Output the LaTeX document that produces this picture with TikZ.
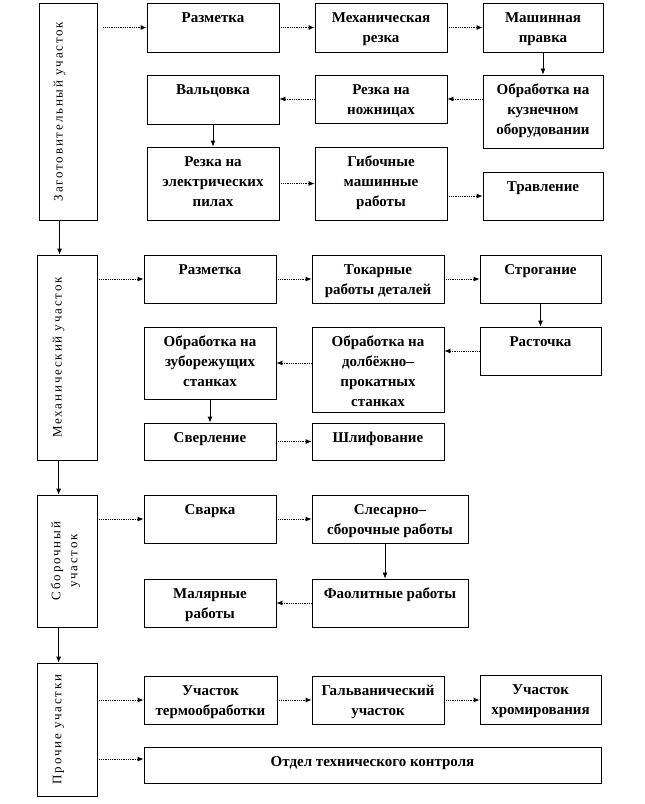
\documentclass[tikz,border=0pt]{standalone}
\usepackage{fontspec}
\setmainfont{Liberation Serif}
\newfontfamily\vfont[LetterSpace=14]{Liberation Serif}
\usetikzlibrary{arrows.meta,calc}
\tikzset{
 box/.style={draw, line width=0.8pt, inner sep=0pt},
 lbl/.style={font=\fontsize{15}{20}\selectfont\bfseries, align=center, inner sep=0pt, anchor=north},
 vlbl/.style={font=\fontsize{13}{17}\selectfont\vfont, rotate=90, align=center, inner sep=0pt},
 flow/.style={densely dotted, line width=0.8pt, -{Latex[length=6pt,width=5pt]}},
 down/.style={line width=0.8pt, -{Latex[length=6pt,width=5pt]}},
}
\newcommand\mybox[6]{%
 \node[box, minimum width={(#4-#2)*1pt}, minimum height={(#5-#3)*1pt}] (#1) at ({(#2+#4)/2},{(#3+#5)/2}) {};
 \node[lbl] (#1t) at ([yshift=-6pt]#1.north) {\rule{0pt}{14pt}#6};}
\begin{document}
\begin{tikzpicture}[x=1pt,y=-1pt]
\useasboundingbox (0,0) rectangle (645,804);
% ---- Заготовительный участок
\node[box, minimum width=58pt, minimum height=217pt] (zag) at (68,111.5) {};
\node[vlbl] (zagt) at ([xshift=21pt]zag.west) {Заготовительный участок};
\mybox{a1}{147}{3}{279}{52}{Разметка}
\mybox{a2}{315}{3}{447}{52}{Механическая\\резка}
\mybox{a3}{483}{3}{603}{52}{Машинная\\правка}
\mybox{a4}{483}{75}{603}{148}{Обработка на\\кузнечном\\оборудовании}
\mybox{a5}{315}{75}{447}{123}{Резка на\\ножницах}
\mybox{a6}{147}{75}{279}{124}{Вальцовка}
\mybox{a7}{147}{147}{279}{220}{Резка на\\электрических\\пилах}
\mybox{a8}{315}{147}{447}{220}{Гибочные\\машинные\\работы}
\mybox{a9}{483}{172}{603}{220}{Травление}
% ---- Механический участок
\node[box, minimum width=60pt, minimum height=205pt] (mex) at (67,357.5) {};
\node[vlbl] (mext) at ([xshift=22pt]mex.west) {Механический участок};
\mybox{b1}{144}{255}{276}{303}{Разметка}
\mybox{b2}{312}{255}{444}{303}{Токарные\\работы деталей}
\mybox{b3}{480}{255}{601}{303}{Строгание}
\mybox{b4}{480}{327}{601}{375}{Расточка}
\mybox{b5}{312}{327}{444}{412}{Обработка на\\долбёжно–\\прокатных\\станках}
\mybox{b6}{144}{327}{276}{399}{Обработка на\\зуборежущих\\станках}
\mybox{b7}{144}{423}{276}{460}{Сверление}
\mybox{b8}{312}{423}{444}{460}{Шлифование}
% ---- Сборочный участок
\node[box, minimum width=60pt, minimum height=132pt] (sbo) at (67,561) {};
\node[vlbl] (sbot) at ([xshift=29pt]sbo.west) {Сборочный\\участок};
\mybox{c1}{144}{495}{276}{543}{Сварка}
\mybox{c2}{312}{495}{468}{543}{Слесарно–\\сборочные работы}
\mybox{c3}{312}{579}{468}{627}{Фаолитные работы}
\mybox{c4}{144}{579}{276}{627}{Малярные\\работы}
% ---- Прочие участки
\node[box, minimum width=60pt, minimum height=133pt] (pro) at (67,729.5) {};
\node[vlbl] (prot) at ([xshift=22pt]pro.west) {Прочие участки};
\mybox{d1}{144}{676}{277}{724}{Участок\\термообработки}
\mybox{d2}{312}{676}{444}{724}{Гальванический\\участок}
\mybox{d3}{480}{675}{601}{724}{Участок\\хромирования}
\mybox{d4}{144}{747}{601}{783}{Отдел технического контроля}
% ---- connectors row 1
\draw[flow, shorten <=6pt] (zag.east |- a1.west) -- (a1.west);
\draw[flow] (a1) -- (a2);
\draw[flow] (a2) -- (a3);
\draw[down] (a3) -- (a4);
\draw[flow] (a4.west |- a5.east) -- (a5.east);
\draw[flow] (a5.west) -- (a6.east |- a5.west);
\draw[down] (a6) -- (a7);
\draw[flow] (a7.east) -- (a8.west |- a7.east);
\draw[flow] (a8.east |- a9.west) -- (a9.west);
\draw[down] (zagt |- zag.south) -- (zagt |- mex.north);
% ---- row 2
\draw[flow] (mex.east |- b1.west) -- (b1.west);
\draw[flow] (b1) -- (b2);
\draw[flow] (b2) -- (b3);
\draw[down] (b3) -- (b4);
\draw[flow] (b4.west) -- (b5.east |- b4.west);
\draw[flow] (b5.west |- b6.east) -- (b6.east);
\draw[down] (b6) -- (b7);
\draw[flow] (b7) -- (b8);
\draw[down] (mext |- mex.south) -- (mext |- sbo.north);
% ---- row 3
\draw[flow] (sbo.east |- c1.west) -- (c1.west);
\draw[flow] (c1) -- (c2);
\draw[down] ([xshift=-5pt]c2.south) -- ([xshift=-5pt]c3.north);
\draw[flow] (c3) -- (c4);
\draw[down] (mext |- sbo.south) -- (mext |- pro.north);
% ---- row 4
\draw[flow] (pro.east |- d1.west) -- (d1.west);
\draw[flow] (d1) -- (d2);
\draw[flow] (d2.east) -- (d3.west |- d2.east);
\draw[flow] (pro.east |- d4.west) ++(0,-6) -- ([yshift=6pt]d4.west);
\end{tikzpicture}
\end{document}
